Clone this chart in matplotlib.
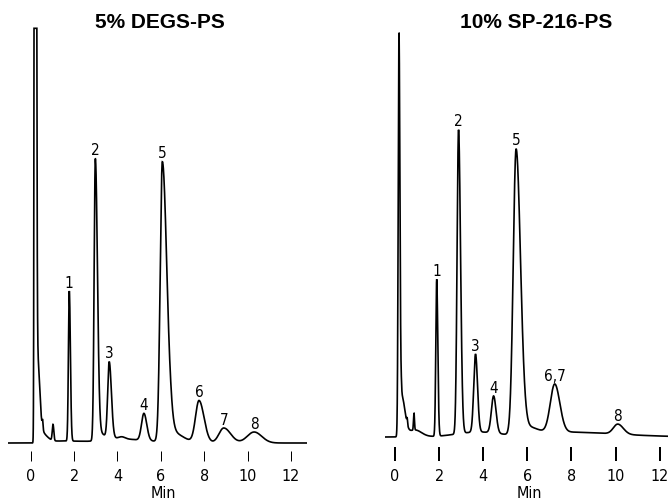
import numpy as np
import matplotlib
matplotlib.use('Agg')
import matplotlib.pyplot as plt
from matplotlib import font_manager
from matplotlib.transforms import blended_transform_factory

# peak table: retention time (min), height, left/right width
left_t = [0.20, 0.28, 0.40, 0.55, 1.03, 1.50, 1.78, 2.98, 3.10, 3.62, 3.80, 4.20, 5.22, 6.07, 6.50, 7.76, 8.90, 10.30]
left_h = [3000, 90, 12, 8, 16, 2, 150, 278, 8, 76, 4, 2, 27, 280, 10, 42, 15, 11]
left_sl = [0.025, 0.02, 0.05, 0.02, 0.035, 0.5, 0.04, 0.055, 0.1, 0.07, 0.5, 0.15, 0.11, 0.1, 0.1, 0.16, 0.22, 0.32]
left_sr = [0.04, 0.11, 0.3, 0.02, 0.035, 1.5, 0.05, 0.095, 0.25, 0.1, 1.5, 0.15, 0.13, 0.21, 0.5, 0.23, 0.32, 0.35]
left_labels = ['1', '2', '3', '4', '5', '6', '7', '8']
left_label_t = [1.78, 2.98, 3.62, 5.22, 6.07, 7.76, 8.90, 10.30]

right_t = [0.18, 0.30, 0.55, 0.86, 0.90, 1.89, 2.88, 3.65, 3.80, 4.47, 5.49, 6.00, 7.50, 7.24, 10.10]
right_h = [404, 40, 6, 17, 7, 157, 304, 78, 5, 37, 286, 8, 5, 48, 10]
right_sl = [0.035, 0.03, 0.02, 0.022, 0.3, 0.04, 0.065, 0.08, 1.0, 0.1, 0.13, 0.2, 1.0, 0.2, 0.2]
right_sr = [0.045, 0.15, 0.02, 0.022, 0.3, 0.05, 0.09, 0.09, 1.0, 0.11, 0.2, 0.45, 2.5, 0.23, 0.25]
right_labels = ['1', '2', '3', '4', '5', '6,7', '8']
right_label_t = [1.89, 2.88, 3.65, 4.47, 5.49, 7.24, 10.10]

ticks = [0, 2, 4, 6, 8, 10, 12]


def have_font(name):
    try:
        font_manager.findfont(font_manager.FontProperties(family=name), fallback_to_default=False)
        return True
    except ValueError:
        return False


if have_font('Liberation Sans Narrow'):
    narrow = dict(family='Liberation Sans Narrow')
else:
    narrow = dict(family='DejaVu Sans', stretch='condensed')


def trace(t, pos, hts, sl, sr):
    y = np.zeros_like(t)
    for t0, h, a, b in zip(pos, hts, sl, sr):
        s = np.where(t < t0, a, b)
        y += h * np.exp(-0.5 * ((t - t0) / s) ** 2)
    return y


W, H = 668, 502
fig = plt.figure(figsize=(W / 100, H / 100), dpi=100)


def panel(x0, x1, base, t_per_px, zero_px, pos, hts, sl, sr, labels, label_t,
          title, title_x, clip=None, tick_len=10, tick_w=1.0):
    ax = fig.add_axes([x0 / W, (H - 462) / H, (x1 - x0) / W, 462 / H])
    lo = (x0 - zero_px) / t_per_px
    hi = (x1 - zero_px) / t_per_px
    ax.set_xlim(lo, hi)
    ax.set_ylim(-(462 - base), base)
    t = np.linspace(lo, hi, 4000)
    y = trace(t, pos, hts, sl, sr)
    if clip is not None:
        y = np.minimum(y, clip)
    ax.plot(t, y, color='black', lw=1.2, solid_joinstyle='miter')
    for lab, lt in zip(labels, label_t):
        ax.annotate(lab, (lt, np.interp(lt, t, y)), xytext=(0, 1), textcoords='offset points',
                    ha='center', va='bottom', fontsize=11, **narrow)
    for s in ax.spines.values():
        s.set_visible(False)
    ax.set_yticks([])
    ax.set_xticks(ticks)
    ax.set_xticklabels([str(v) for v in ticks], fontsize=11.5, **narrow)
    ax.tick_params(axis='x', direction='in', length=tick_len * 0.72, width=tick_w * 0.72,
                   pad=5.2, colors='black')
    ax.patch.set_alpha(0)
    tr = blended_transform_factory(ax.transData, fig.transFigure)
    ax.text(6.1, 1 - 494 / H, 'Min', transform=tr, ha='center', va='center', fontsize=11.5, **narrow)
    fig.text(title_x / W, 1 - 22 / H, title, ha='center', va='center', fontsize=15,
             fontweight='bold', family='Liberation Sans')
    return ax


panel(8, 307, 444, 21.69, 30.7, left_t, left_h, left_sl, left_sr, left_labels, left_label_t,
      '5% DEGS-PS', 160, clip=414.7, tick_len=10, tick_w=1.0)
ax2 = panel(385, 668, 438, 22.06, 395, right_t, right_h, right_sl, right_sr, right_labels,
            right_label_t, '10% SP-216-PS', 536.5, tick_len=14, tick_w=2.0)
# injection mark: the zero tick on the right trace runs up to the baseline
ax2.set_xticks([0], minor=True)
ax2.tick_params(axis='x', which='minor', direction='in', length=24 * 0.72, width=2.0 * 0.72)

fig.savefig('out.png', dpi=100)
